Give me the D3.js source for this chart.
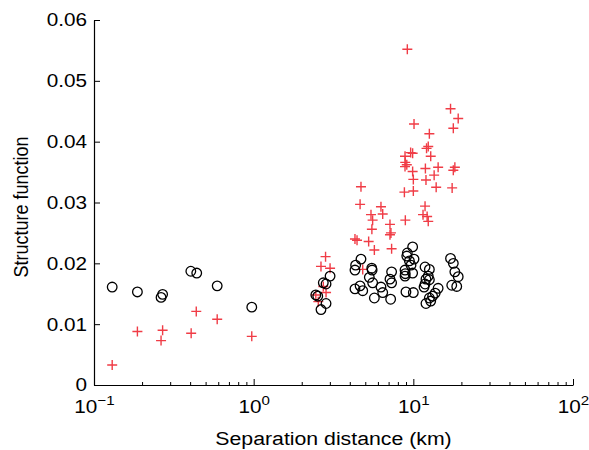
<!DOCTYPE html>
<html>
<head>
<meta charset="utf-8">
<script src="https://cdn.jsdelivr.net/npm/d3@7"></script>
<style>
  body { margin: 0; background: #fff; }
  svg { display: block; }
  text { font-family: "Liberation Sans", Arial, Helvetica, sans-serif; }
</style>
</head>
<body>
<svg id="chart"></svg>
<script>
const width = 589;
const height = 450;
const margin = {top: 20, right: 16, bottom: 65, left: 94};
const stretch = 1.12; // text in the reference is a bit wider than tall

// Circles (black, open)
const circles = [
    [0.130, 0.0161], [0.187, 0.0153], [0.263, 0.0144], [0.269, 0.0149],
    [0.404, 0.0187], [0.440, 0.0184], [0.591, 0.0163], [0.973, 0.0128],
    [3.01, 0.0179], [2.73, 0.0168], [2.84, 0.0166], [2.52, 0.0146],
    [2.45, 0.0148], [2.84, 0.0134], [2.64, 0.0124],
    [4.70, 0.0207], [4.35, 0.0197], [4.31, 0.0189], [5.49, 0.0192],
    [5.52, 0.0189], [5.30, 0.0177], [5.56, 0.0168], [7.31, 0.0186],
    [7.14, 0.0174], [7.31, 0.0168], [6.27, 0.0161], [6.43, 0.0152],
    [4.31, 0.0158], [4.64, 0.0163], [4.82, 0.0155], [5.70, 0.0143],
    [7.21, 0.0141], [8.87, 0.0189], [8.90, 0.0183], [8.99, 0.0153],
    [9.9, 0.0227], [9.17, 0.0217], [9.1, 0.0212], [10.1, 0.0207],
    [9.45, 0.0204], [9.67, 0.0197], [8.87, 0.0179], [9.9, 0.0184],
    [10.0, 0.0152], [11.84, 0.0194], [12.6, 0.0190], [12.4, 0.0179],
    [12.0, 0.0174], [12.6, 0.0173], [11.84, 0.0166], [11.67, 0.0161],
    [14.3, 0.0159], [13.7, 0.0151], [13.2, 0.0146], [12.6, 0.0143],
    [12.0, 0.0134], [12.85, 0.0138], [17.1, 0.0208], [17.8, 0.0200],
    [18.2, 0.0186], [19.1, 0.0178], [17.4, 0.0164], [18.7, 0.0162]
];

// Crosses (red)
const crosses = [
    [0.130, 0.0033], [0.187, 0.0088], [0.269, 0.0090], [0.263, 0.0073],
    [0.437, 0.0121], [0.406, 0.0085], [0.591, 0.0108], [0.973, 0.0080],
    [2.82, 0.0211], [2.64, 0.0195], [3.01, 0.0192], [2.73, 0.0162],
    [2.84, 0.0152], [2.45, 0.0148], [2.54, 0.0137],
    [4.70, 0.0326], [8.79, 0.0317], [4.64, 0.0297], [6.27, 0.0293],
    [6.43, 0.0281], [5.43, 0.0280], [5.56, 0.0271], [8.91, 0.0271],
    [7.14, 0.0264], [5.5, 0.0256], [7.24, 0.0250], [7.14, 0.0247],
    [4.31, 0.0240], [4.44, 0.0238], [5.25, 0.0236], [5.70, 0.0222],
    [7.31, 0.0224], [4.82, 0.0190],
    [10.0, 0.0319], [10.0, 0.0338], [9.9, 0.0351], [12.0, 0.0337],
    [13.5, 0.0345], [13.9, 0.0325], [17.5, 0.0324], [11.84, 0.0294],
    [11.5, 0.0280], [12.2, 0.0277], [12.4, 0.0269],
    [9.17, 0.0552], [17.1, 0.0454], [19.1, 0.0438], [17.8, 0.0422],
    [10.1, 0.0429], [12.6, 0.0413], [12.4, 0.0392], [12.1, 0.0389],
    [12.85, 0.0376], [9.62, 0.0382], [9.9, 0.0381], [8.87, 0.0376],
    [8.9, 0.0366], [9.1, 0.0362], [8.87, 0.0359], [11.9, 0.0356],
    [14.3, 0.0358], [18.2, 0.0358], [17.8, 0.0353]
];

const xTicks = [0.1, 1, 10, 100];
const xExponents = ["\u22121", "0", "1", "2"];
const yTicks = [0, 0.01, 0.02, 0.03, 0.04, 0.05, 0.06];

const svg = d3.select("#chart")
    .attr("width", width)
    .attr("height", height);

const x = d3.scaleLog([0.1, 100], [margin.left, width - margin.right]);
const y = d3.scaleLinear([0, 0.06], [height - margin.bottom, margin.top]);

// minor ticks of the log axis
const minorTicks = x.ticks().filter(d => !xTicks.includes(d));

svg.append("g")
    .attr("transform", `translate(0,${height - margin.bottom})`)
    .call(d3.axisBottom(x).tickValues(minorTicks).tickSizeInner(-3).tickSizeOuter(0).tickFormat(""))
    .call(g => g.select(".domain").remove());

// X axis
const xAxis = svg.append("g")
    .attr("transform", `translate(0,${height - margin.bottom})`)
    .call(d3.axisBottom(x).tickValues(xTicks).tickSizeInner(-6).tickSizeOuter(0).tickFormat(""));
xAxis.select(".domain").attr("stroke-width", 1.2);
xAxis.selectAll(".tick text").remove();
xAxis.selectAll(".tick")
    .append("text")
    .attr("fill", "#000")
    .attr("transform", `translate(0,28) scale(${stretch},1)`)
    .attr("text-anchor", "middle")
    .attr("font-size", 18.5)
    .each(function(d, i) {
        const t = d3.select(this);
        t.append("tspan").text("10");
        t.append("tspan").attr("font-size", 13.5).attr("dy", -8).text(xExponents[i]);
    });

// Y axis
svg.append("g")
    .attr("transform", `translate(${margin.left},0)`)
    .call(d3.axisLeft(y).tickValues(yTicks).tickSizeInner(-6).tickSizeOuter(0)
        .tickFormat(d => d === 0 ? "0" : d3.format(".2f")(d)))
    .call(g => g.select(".domain").attr("stroke-width", 1.2))
    .call(g => g.selectAll("text")
        .attr("x", null)
        .attr("transform", `translate(-7,0) scale(${stretch},1)`)
        .attr("font-size", 18.5)
        .attr("fill", "#000")
        .attr("font-family", "'Liberation Sans', Arial, sans-serif"));

// Axis labels
svg.append("text")
    .attr("transform", `translate(${(margin.left + width - margin.right) / 2},445) scale(${stretch},1)`)
    .attr("text-anchor", "middle")
    .attr("font-size", 19)
    .text("Separation distance (km)");

svg.append("text")
    .attr("transform", `translate(28,207) scale(${stretch},1) rotate(-90)`)
    .attr("text-anchor", "middle")
    .attr("font-size", 18)
    .text("Structure function");

// Crosses
svg.append("g")
    .attr("stroke", "#f03c46")
    .attr("stroke-width", 1.4)
    .selectAll("path")
    .data(crosses)
    .join("path")
    .attr("d", d => {
        const cx = x(d[0]), cy = y(d[1]);
        return `M${cx - 5},${cy}H${cx + 5}M${cx},${cy - 5}V${cy + 5}`;
    });

// Circles
svg.append("g")
    .attr("fill", "none")
    .attr("stroke", "#000")
    .attr("stroke-width", 1.3)
    .selectAll("circle")
    .data(circles)
    .join("circle")
    .attr("cx", d => x(d[0]))
    .attr("cy", d => y(d[1]))
    .attr("r", 4.8);
</script>
</body>
</html>
